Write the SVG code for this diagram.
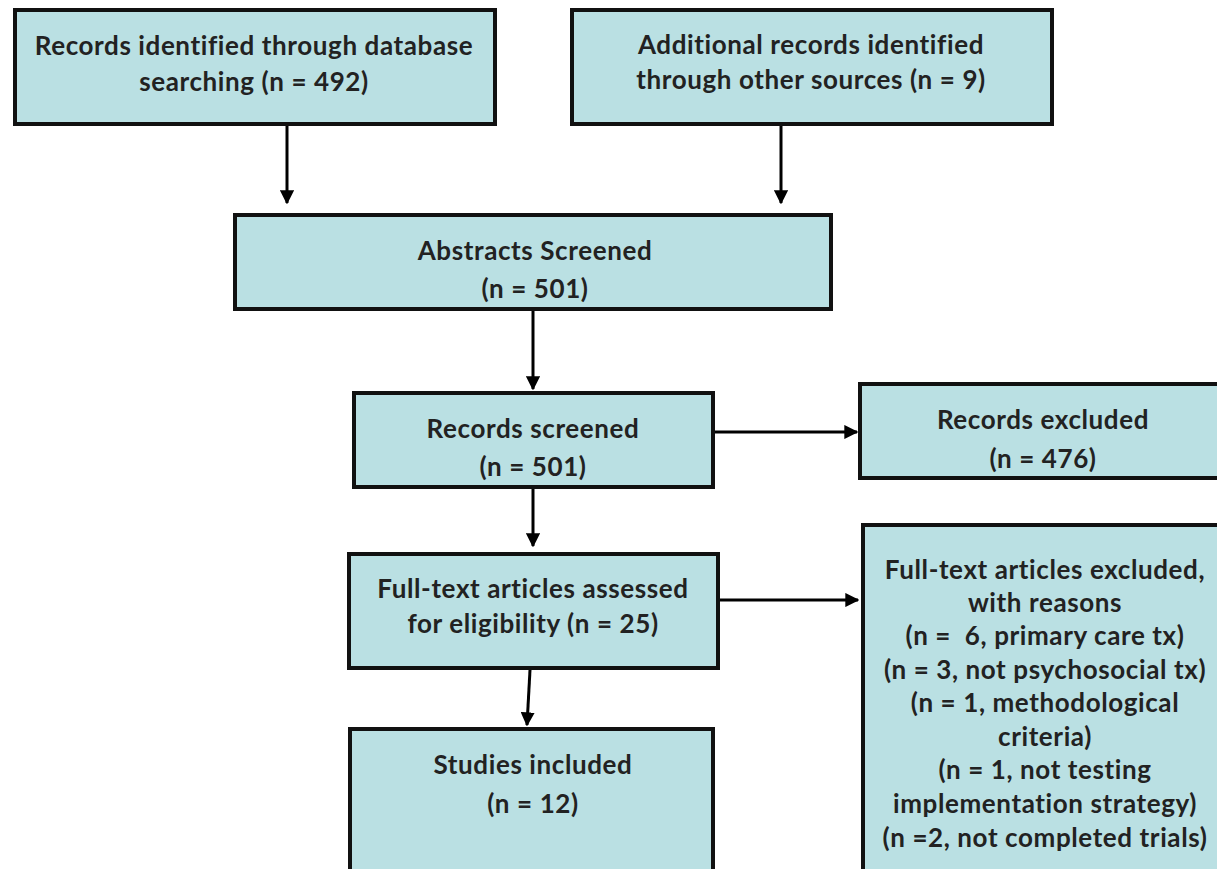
<svg xmlns="http://www.w3.org/2000/svg" width="1217" height="869" viewBox="0 0 1217 869">
<defs>
<style>
.box{fill:#bae0e3;stroke:#111;stroke-width:4}
.t{font-family:Lato,"Liberation Sans",sans-serif;font-weight:700;font-size:26px;letter-spacing:0.6px;fill:#222;text-anchor:middle}
.c{stroke:#000;stroke-width:3;fill:none}
</style>
<marker id="ah" viewBox="0 0 10 10" refX="9" refY="5" markerWidth="4.7" markerHeight="4.7" orient="auto" markerUnits="strokeWidth">
<path d="M0,0 L10,5 L0,10 Z" fill="#000"/>
</marker>
</defs>
<rect width="1217" height="869" fill="#fff"/>
<g id="connectors">
<line class="c" x1="287" y1="126" x2="287" y2="203" marker-end="url(#ah)"/>
<line class="c" x1="781" y1="126" x2="781" y2="203" marker-end="url(#ah)"/>
<line class="c" x1="533" y1="311" x2="533" y2="389" marker-end="url(#ah)"/>
<line class="c" x1="715" y1="432" x2="857" y2="432" marker-end="url(#ah)"/>
<line class="c" x1="533" y1="489" x2="533" y2="546" marker-end="url(#ah)"/>
<line class="c" x1="720" y1="600" x2="858" y2="600" marker-end="url(#ah)"/>
<line class="c" x1="530" y1="670" x2="527" y2="725" marker-end="url(#ah)"/>
</g>
<g id="n1">
<rect class="box" x="15" y="10" width="480" height="114"/>
<text class="t" x="254" y="55">Records identified through database</text>
<text class="t" x="254" y="91">searching (n = 492)</text>
</g>
<g id="n2">
<rect class="box" x="572" y="10" width="480" height="114"/>
<text class="t" x="811" y="54">Additional records identified</text>
<text class="t" x="811" y="89">through other sources (n = 9)</text>
</g>
<g id="n3">
<rect class="box" x="235" y="215" width="596" height="94"/>
<text class="t" x="535" y="260">Abstracts Screened</text>
<text class="t" x="535" y="298">(n = 501)</text>
</g>
<g id="n4">
<rect class="box" x="354" y="393" width="359" height="94"/>
<text class="t" x="533" y="438">Records screened</text>
<text class="t" x="533" y="476">(n = 501)</text>
</g>
<g id="n5">
<rect class="box" x="860" y="384" width="370" height="94"/>
<text class="t" x="1043" y="429">Records excluded</text>
<text class="t" x="1043" y="468">(n = 476)</text>
</g>
<g id="n6">
<rect class="box" x="863" y="525" width="370" height="360"/>
<text class="t" x="1045" y="579">Full-text articles excluded,</text>
<text class="t" x="1045" y="612">with reasons</text>
<text class="t" x="1045" y="645" xml:space="preserve">(n =  6, primary care tx)</text>
<text class="t" x="1045" y="679">(n = 3, not psychosocial tx)</text>
<text class="t" x="1045" y="712">(n = 1, methodological</text>
<text class="t" x="1045" y="746">criteria)</text>
<text class="t" x="1045" y="779">(n = 1, not testing</text>
<text class="t" x="1045" y="813">implementation strategy)</text>
<text class="t" x="1045" y="847">(n =2, not completed trials)</text>
</g>
<g id="n7">
<rect class="box" x="349" y="554" width="369" height="114"/>
<text class="t" x="533" y="598">Full-text articles assessed</text>
<text class="t" x="533" y="633">for eligibility (n = 25)</text>
</g>
<g id="n8">
<rect class="box" x="350" y="729" width="363" height="160"/>
<text class="t" x="533" y="774">Studies included</text>
<text class="t" x="533" y="813">(n = 12)</text>
</g>
</svg>
